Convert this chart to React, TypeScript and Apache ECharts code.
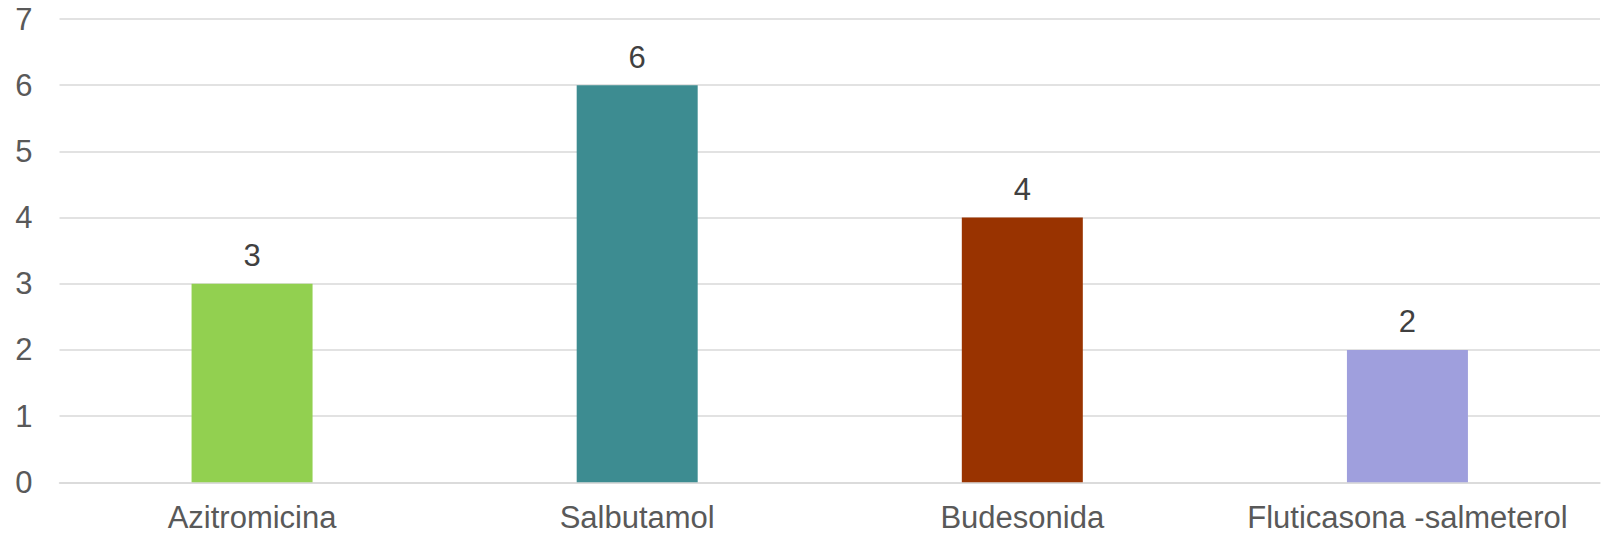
import React, { useEffect, useRef } from "react";
import * as echarts from "echarts";

// Medications and their counts
const categories = ["Azitromicina", "Salbutamol", "Budesonida", "Fluticasona -salmeterol"];
const counts = [3, 6, 4, 2];
const barColors = ["#92D050", "#3D8C91", "#993300", "#9F9FDD"];

const FONT = "'Liberation Sans', Arial, Helvetica, sans-serif";

export default function App() {
  const ref = useRef<HTMLDivElement>(null);

  useEffect(() => {
    if (!ref.current) return;
    const chart = echarts.init(ref.current, undefined, { renderer: "svg" });
    chart.setOption({
      animation: false,
      backgroundColor: "#ffffff",
      grid: { left: 59.5, right: 5, top: 19, bottom: 52.7, containLabel: false },
      xAxis: {
        type: "category",
        data: categories,
        axisLine: { show: true, lineStyle: { color: "#D9D9D9", width: 1.5 } },
        axisTick: { show: false },
        axisLabel: {
          color: "#595959",
          fontFamily: FONT,
          fontSize: 31,
          lineHeight: 24,
          margin: 23.5,
          interval: 0,
        },
      },
      yAxis: {
        type: "value",
        min: 0,
        max: 7,
        interval: 1,
        axisLine: { show: false },
        axisTick: { show: false },
        splitLine: { lineStyle: { color: "#D9D9D9", width: 1.5 } },
        axisLabel: {
          color: "#595959",
          fontFamily: FONT,
          fontSize: 31,
          margin: 27,
        },
      },
      series: [
        {
          type: "bar",
          barWidth: 121,
          data: counts.map((v, i) => ({ value: v, itemStyle: { color: barColors[i] } })),
          label: {
            show: true,
            position: "top",
            distance: 12.5,
            color: "#404040",
            fontFamily: FONT,
            fontSize: 31,
          },
        },
      ],
    });
    return () => chart.dispose();
  }, []);

  return (
    <div
      ref={ref}
      style={{ position: "fixed", left: 0, top: 0, width: 1605, height: 535 }}
    />
  );
}
